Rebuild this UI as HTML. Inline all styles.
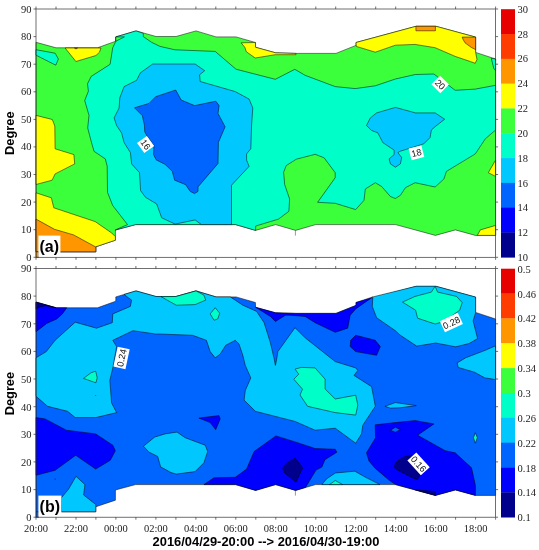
<!DOCTYPE html>
<html><head><meta charset="utf-8"><title>Contour</title>
<style>
html,body{margin:0;padding:0;background:#fff;}
svg{display:block;}
.ser{font-family:"Liberation Serif","DejaVu Serif",serif;font-size:10.5px;fill:#222;}
.sb{font-family:"Liberation Sans","DejaVu Sans",sans-serif;font-weight:bold;fill:#000;}
.lab{font-family:"Liberation Sans","DejaVu Sans",sans-serif;font-size:9.2px;fill:#111;}
</style></head>
<body>
<svg width="539" height="550" viewBox="0 0 539 550">
<rect x="0" y="0" width="539" height="550" fill="#fff"/>
<g id="plotA">
<polygon points="36.0,42.3 56.0,47.8 97.5,47.8 115.8,41.2 115.8,36.9 136.0,30.9 156.0,36.5 176.0,36.5 196.0,30.9 216.0,36.9 236.0,36.9 255.4,42.5 255.6,47.3 275.6,52.8 296.0,53.4 336.0,53.4 356.0,45.4 356.0,42.5 416.0,26.3 436.0,26.3 475.6,37.1 475.6,52.4 495.6,59.0 495.6,235.4 475.4,235.4 455.4,229.9 435.4,235.4 395.6,224.6 315.6,224.6 295.6,230.4 275.6,224.6 255.6,230.4 235.6,224.6 135.6,224.6 115.4,230.0 115.4,240.2 95.8,246.8 95.8,251.8 36.0,251.8" fill="#3cff3c" stroke="#000" stroke-width="0.5" stroke-linejoin="round"/>
<polygon points="36.0,49.7 55.1,53.2 58.4,59.0 55.8,65.2 36.0,55.2" fill="#00ffc8" stroke="#000" stroke-width="0.5" stroke-linejoin="round"/>
<polygon points="112.7,47.8 115.8,41.2 115.8,36.9 136.0,30.9 143.3,33.3 143.3,36.6 151.6,42.3 160.0,46.4 175.0,49.8 215.2,51.4 236.0,69.2 275.3,79.3 294.8,69.3 305.1,75.3 335.2,86.6 355.2,88.6 375.3,85.8 395.4,79.0 415.3,74.5 433.9,74.0 455.2,90.3 475.3,89.1 495.6,85.3 495.6,130.0 485.3,138.8 475.3,153.9 446.4,171.4 443.9,179.0 435.1,187.0 415.1,182.7 405.4,187.7 400.4,195.3 395.4,198.5 390.4,196.5 381.6,186.5 375.3,182.7 365.3,189.0 364.0,200.3 355.7,209.6 335.2,203.3 317.6,202.3 335.2,177.7 335.2,172.7 324.1,157.8 315.2,154.3 296.3,159.2 286.2,165.6 283.6,172.3 284.7,184.6 289.6,199.0 288.9,211.3 278.5,219.1 255.7,226.0 255.6,230.4 235.6,224.6 135.6,224.6 115.4,230.0 117.0,229.2 127.5,224.6 112.7,205.5 107.5,192.4 107.2,166.4 105.3,158.9 94.0,151.3 91.5,142.6 87.7,128.0 89.0,115.4 84.7,100.5 88.4,91.2 87.5,83.8 91.2,76.4 110.1,64.3" fill="#00ffc8" stroke="#000" stroke-width="0.5" stroke-linejoin="round"/>
<polygon points="491.3,58.4 495.6,59.0 495.6,70.8 493.7,68.2" fill="#00ffc8" stroke="#000" stroke-width="0.5" stroke-linejoin="round"/>
<polygon points="115.8,36.9 124.4,36.9 115.8,41.2" fill="#3cff3c" stroke="#000" stroke-width="0.5" stroke-linejoin="round"/>
<polygon points="152.7,64.0 195.1,64.0 204.7,70.7 199.6,74.8 200.2,81.5 235.3,91.6 249.1,99.1 252.8,107.9 251.6,125.0 250.8,148.8 246.6,153.9 246.6,160.1 249.1,166.4 231.5,185.2 231.5,224.6 201.4,224.6 195.1,219.9 175.1,224.1 161.7,217.8 156.7,204.0 145.5,197.3 140.6,190.7 139.5,172.7 131.6,163.9 130.4,152.6 124.1,142.6 121.6,133.0 116.6,125.5 114.1,117.9 119.1,107.9 119.8,97.8 124.1,86.6 136.6,80.3 140.4,72.8" fill="#00c8ff" stroke="#000" stroke-width="0.5" stroke-linejoin="round"/>
<polygon points="366.5,125.5 370.3,117.9 376.6,112.9 395.4,107.4 415.5,112.9 435.1,112.9 444.7,119.2 435.1,126.7 431.4,130.0 430.1,137.5 423.8,143.8 400.0,151.3 397.9,152.6 401.7,157.6 400.4,163.9 395.4,167.2 390.4,163.9 389.1,158.9 394.1,154.6 394.1,150.1 382.8,142.6 377.8,132.8 371.6,130.5" fill="#00c8ff" stroke="#000" stroke-width="0.5" stroke-linejoin="round"/>
<polygon points="134.5,107.8 149.0,103.4 155.6,96.7 175.7,90.0 181.2,100.0 194.6,105.6 215.8,101.2 219.1,105.6 218.0,113.4 225.1,126.8 218.4,142.4 218.0,163.5 198.0,186.9 198.0,191.4 194.6,193.6 190.2,191.4 185.7,184.7 174.6,180.2 172.3,171.3 165.0,164.3 156.2,159.9 153.6,154.7 153.9,145.4 146.9,135.8 144.7,131.7 144.4,125.0 142.3,115.6" fill="#0064ff" stroke="#000" stroke-width="0.5" stroke-linejoin="round"/>
<polygon points="65.1,48.0 101.0,48.0 99.4,52.3 96.0,55.5 75.9,61.5" fill="#ffff00" stroke="#000" stroke-width="0.5" stroke-linejoin="round"/>
<polygon points="36.0,115.4 52.3,119.5 54.8,126.0 55.1,148.8 73.9,154.6 74.7,163.9 55.1,173.9 52.1,180.2 36.0,184.5" fill="#ffff00" stroke="#000" stroke-width="0.5" stroke-linejoin="round"/>
<polygon points="36.0,192.8 51.3,197.8 53.8,207.8 95.2,221.6 111.6,232.9 115.4,236.7 115.4,240.2 95.8,246.8 95.8,251.8 36.0,251.8" fill="#ffff00" stroke="#000" stroke-width="0.5" stroke-linejoin="round"/>
<polygon points="241.1,42.8 255.4,42.5 255.6,47.3 275.6,52.8 296.0,53.4 296.0,54.7 275.3,54.7 255.2,58.0 246.3,51.7 244.8,47.3" fill="#ffff00" stroke="#000" stroke-width="0.5" stroke-linejoin="round"/>
<polygon points="356.0,42.5 416.0,26.3 436.0,26.3 475.6,37.1 475.6,52.4 477.0,59.5 475.2,63.3 470.5,61.6 455.2,56.4 435.1,47.7 415.0,44.4 395.4,45.2 375.3,52.2 356.3,46.4" fill="#ffff00" stroke="#000" stroke-width="0.5" stroke-linejoin="round"/>
<polygon points="495.6,160.1 488.3,172.7 495.6,176.4" fill="#ffff00" stroke="#000" stroke-width="0.5" stroke-linejoin="round"/>
<polygon points="495.6,225.4 480.3,229.9 477.3,235.4 495.6,235.4" fill="#ffff00" stroke="#000" stroke-width="0.5" stroke-linejoin="round"/>
<polygon points="36.0,219.1 54.5,229.3 73.6,234.9 95.8,247.0 95.8,251.8 36.0,251.8" fill="#ff9600" stroke="#000" stroke-width="0.5" stroke-linejoin="round"/>
<polygon points="36.0,251.8 38.6,251.8 38.6,257.3 36.0,257.3" fill="#ff9600" stroke="#000" stroke-width="0.5" stroke-linejoin="round"/>
<polygon points="415.9,26.3 435.4,26.3 435.4,30.8 415.9,30.8" fill="#ff9600" stroke="#000" stroke-width="0.5" stroke-linejoin="round"/>
<polygon points="462.2,37.1 475.6,37.1 475.6,49.6 471.4,47.5 465.0,42.8 463.0,39.3" fill="#ff9600" stroke="#000" stroke-width="0.5" stroke-linejoin="round"/>
<polygon points="74.5,48.0 77.5,48.0 76.0,49.0" fill="#ff9600" stroke="#000" stroke-width="0.5" stroke-linejoin="round"/>
<path d="M295.4 230.4v5.2" stroke="#333" stroke-width="0.5"/>
<g transform="translate(145.6 144.5) rotate(54)"><rect x="-6.2" y="-6.1" width="12.4" height="12.2" fill="#fff"/><text class="lab" x="0" y="3.3" text-anchor="middle">16</text></g>
<g transform="translate(416.4 152.8) rotate(-14)"><rect x="-6.5" y="-6.0" width="13.1" height="12.0" fill="#fff"/><text class="lab" x="0" y="3.3" text-anchor="middle">18</text></g>
<g transform="translate(440.2 84.4) rotate(45)"><rect x="-6.3" y="-6.1" width="12.6" height="12.2" fill="#fff"/><text class="lab" x="0" y="3.3" text-anchor="middle">20</text></g>
<rect x="38.4" y="235.6" width="22" height="21.2" fill="#fff"/>
<text class="sb" x="49.2" y="251.6" font-size="16" text-anchor="middle">(a)</text>
<g stroke="#333" stroke-width="0.7" fill="none">
<rect x="36.0" y="9.0" width="459.6" height="248.3"/>
<path d="M36.0 9.0v-2.5M36.0 257.3v2.5M56.0 9.0v-2.5M56.0 257.3v2.5M76.0 9.0v-2.5M76.0 257.3v2.5M95.9 9.0v-2.5M95.9 257.3v2.5M115.9 9.0v-2.5M115.9 257.3v2.5M135.9 9.0v-2.5M135.9 257.3v2.5M155.9 9.0v-2.5M155.9 257.3v2.5M175.9 9.0v-2.5M175.9 257.3v2.5M195.9 9.0v-2.5M195.9 257.3v2.5M215.8 9.0v-2.5M215.8 257.3v2.5M235.8 9.0v-2.5M235.8 257.3v2.5M255.8 9.0v-2.5M255.8 257.3v2.5M275.8 9.0v-2.5M275.8 257.3v2.5M295.8 9.0v-2.5M295.8 257.3v2.5M315.8 9.0v-2.5M315.8 257.3v2.5M335.7 9.0v-2.5M335.7 257.3v2.5M355.7 9.0v-2.5M355.7 257.3v2.5M375.7 9.0v-2.5M375.7 257.3v2.5M395.7 9.0v-2.5M395.7 257.3v2.5M415.7 9.0v-2.5M415.7 257.3v2.5M435.7 9.0v-2.5M435.7 257.3v2.5M455.6 9.0v-2.5M455.6 257.3v2.5M475.6 9.0v-2.5M475.6 257.3v2.5M495.6 9.0v-2.5M495.6 257.3v2.5M36.0 9.0h-2.5M495.6 9.0h2.5M36.0 36.6h-2.5M495.6 36.6h2.5M36.0 64.2h-2.5M495.6 64.2h2.5M36.0 91.8h-2.5M495.6 91.8h2.5M36.0 119.4h-2.5M495.6 119.4h2.5M36.0 146.9h-2.5M495.6 146.9h2.5M36.0 174.5h-2.5M495.6 174.5h2.5M36.0 202.1h-2.5M495.6 202.1h2.5M36.0 229.7h-2.5M495.6 229.7h2.5M36.0 257.3h-2.5M495.6 257.3h2.5"/>
</g>
<text class="ser" x="31.5" y="12.5" text-anchor="end">90</text>
<text class="ser" x="31.5" y="40.1" text-anchor="end">80</text>
<text class="ser" x="31.5" y="67.7" text-anchor="end">70</text>
<text class="ser" x="31.5" y="95.3" text-anchor="end">60</text>
<text class="ser" x="31.5" y="122.9" text-anchor="end">50</text>
<text class="ser" x="31.5" y="150.4" text-anchor="end">40</text>
<text class="ser" x="31.5" y="178.0" text-anchor="end">30</text>
<text class="ser" x="31.5" y="205.6" text-anchor="end">20</text>
<text class="ser" x="31.5" y="233.2" text-anchor="end">10</text>
<text class="ser" x="31.5" y="260.8" text-anchor="end">0</text>
<rect x="501" y="9.20" width="14" height="25.11" fill="#e60000"/>
<rect x="501" y="34.01" width="14" height="25.11" fill="#ff3c00"/>
<rect x="501" y="58.82" width="14" height="25.11" fill="#ff9600"/>
<rect x="501" y="83.63" width="14" height="25.11" fill="#ffff00"/>
<rect x="501" y="108.44" width="14" height="25.11" fill="#3cff3c"/>
<rect x="501" y="133.25" width="14" height="25.11" fill="#00ffc8"/>
<rect x="501" y="158.06" width="14" height="25.11" fill="#00c8ff"/>
<rect x="501" y="182.87" width="14" height="25.11" fill="#0064ff"/>
<rect x="501" y="207.68" width="14" height="25.11" fill="#0000ff"/>
<rect x="501" y="232.49" width="14" height="25.11" fill="#00008c"/>
<text class="ser" x="517.5" y="12.8">30</text>
<text class="ser" x="517.5" y="37.6">28</text>
<text class="ser" x="517.5" y="62.4">26</text>
<text class="ser" x="517.5" y="87.2">24</text>
<text class="ser" x="517.5" y="112.0">22</text>
<text class="ser" x="517.5" y="136.8">20</text>
<text class="ser" x="517.5" y="161.7">18</text>
<text class="ser" x="517.5" y="186.5">16</text>
<text class="ser" x="517.5" y="211.3">14</text>
<text class="ser" x="517.5" y="236.1">12</text>
<text class="ser" x="517.5" y="260.9">10</text>
<text class="sb" font-size="12.8" text-anchor="middle" transform="translate(14.2 133.2) rotate(-90)">Degree</text>
</g>
<g id="plotB">
<polygon points="36.0,302.3 56.0,307.8 97.5,307.8 115.8,301.2 115.8,296.9 136.0,290.9 156.0,296.5 176.0,296.5 196.0,290.9 216.0,296.9 236.0,296.9 255.4,302.5 255.6,307.3 275.6,312.8 296.0,313.4 336.0,313.4 356.0,305.4 356.0,302.5 416.0,286.3 436.0,286.3 475.6,297.1 475.6,312.4 495.6,319.0 495.6,495.4 475.4,495.4 455.4,489.9 435.4,495.4 395.6,484.6 315.6,484.6 295.6,490.4 275.6,484.6 255.6,490.4 235.6,484.6 135.6,484.6 115.4,490.0 115.4,500.2 95.8,506.8 95.8,511.8 36.0,511.8" fill="#0064ff" stroke="#000" stroke-width="0.5" stroke-linejoin="round"/>
<polygon points="36.0,511.8 38.6,511.8 38.6,517.3 36.0,517.3" fill="#0064ff" stroke="#000" stroke-width="0.5" stroke-linejoin="round"/>
<polygon points="36.0,357.8 46.3,351.6 55.1,340.3 75.2,322.2 96.5,328.2 112.3,322.7 112.8,313.9 130.4,306.4 131.6,300.1 126.6,296.4 124.0,294.5 136.0,290.9 156.0,296.5 176.0,296.5 196.0,290.9 216.0,296.9 230.3,296.9 242.8,305.2 256.6,311.4 264.1,322.7 270.4,342.8 274.2,359.1 275.4,365.4 276.7,359.1 277.9,351.6 295.0,327.7 305.1,337.8 335.2,361.6 355.7,367.9 357.8,370.4 354.0,375.4 371.6,386.7 375.3,406.3 362.8,425.2 361.5,433.9 355.7,443.2 335.2,428.2 315.1,430.2 295.0,421.4 275.4,416.4 255.4,411.3 244.1,400.1 245.3,390.5 250.8,377.9 245.3,365.4 242.8,355.3 239.0,344.0 235.3,340.3 225.7,345.3 220.2,354.1 215.2,357.8 210.2,351.6 206.4,340.3 192.6,335.3 160.0,334.0 155.5,334.0 132.9,330.7 112.8,340.3 116.6,346.6 112.8,367.9 109.8,380.4 111.6,403.0 116.6,412.6 95.7,417.6 75.2,417.6 67.6,411.3 47.6,406.3 36.0,396.3" fill="#00c8ff" stroke="#000" stroke-width="0.5" stroke-linejoin="round"/>
<polygon points="372.8,296.9 416.0,286.3 436.0,286.3 475.6,297.1 475.6,312.6 473.1,321.0 477.6,338.6 469.1,343.5 455.7,346.8 435.7,343.0 416.7,346.1 400.0,335.0 395.4,330.7 376.6,317.7 372.3,306.4" fill="#00c8ff" stroke="#000" stroke-width="0.5" stroke-linejoin="round"/>
<polygon points="495.6,345.8 485.3,350.3 465.7,357.8 457.2,362.9 458.2,367.4 474.5,372.2 484.7,377.8 495.6,379.6" fill="#00c8ff" stroke="#000" stroke-width="0.5" stroke-linejoin="round"/>
<polygon points="143.5,446.2 154.7,437.1 165.0,433.9 177.0,432.1 185.1,437.7 205.2,445.2 207.7,451.5 203.9,462.8 195.1,471.6 176.3,474.1 171.0,472.6 160.6,466.8 157.7,456.4 148.8,452.0" fill="#00c8ff" stroke="#000" stroke-width="0.5" stroke-linejoin="round"/>
<polygon points="76.0,476.3 84.9,484.6 83.6,495.0 95.8,504.5 95.8,511.8 61.4,511.8 61.2,498.0 68.6,489.1" fill="#00c8ff" stroke="#000" stroke-width="0.5" stroke-linejoin="round"/>
<polygon points="321.9,484.6 326.4,479.0 335.3,473.0 354.8,471.2 365.2,477.1 380.0,484.6" fill="#00c8ff" stroke="#000" stroke-width="0.5" stroke-linejoin="round"/>
<polygon points="384.9,406.3 395.4,402.6 416.3,405.6 400.0,407.8 390.4,408.1" fill="#00c8ff" stroke="#000" stroke-width="0.5" stroke-linejoin="round"/>
<polygon points="83.5,378.4 91.2,372.7 95.7,371.2 97.2,377.8 95.9,382.8" fill="#00ffc8" stroke="#000" stroke-width="0.5" stroke-linejoin="round"/>
<polygon points="161.0,296.6 176.0,296.5 196.0,290.9 203.9,295.1 205.7,300.1 195.1,304.6 176.3,305.2 165.0,298.9" fill="#00ffc8" stroke="#000" stroke-width="0.5" stroke-linejoin="round"/>
<polygon points="215.2,307.7 219.7,313.2 217.7,319.0 214.0,320.2 210.2,313.9" fill="#00ffc8" stroke="#000" stroke-width="0.5" stroke-linejoin="round"/>
<polygon points="402.5,302.1 415.1,296.4 431.4,292.1 435.1,286.3 437.6,292.1 456.5,296.4 462.2,302.6 459.7,310.2 443.9,321.5 435.1,324.0 417.6,318.2 415.6,310.2" fill="#00ffc8" stroke="#000" stroke-width="0.5" stroke-linejoin="round"/>
<polygon points="295.0,369.1 301.3,367.4 315.1,367.9 325.1,379.2 325.1,389.0 335.2,399.0 355.7,395.2 357.8,405.1 355.7,415.1 335.2,412.6 307.6,406.3 300.0,395.0 302.5,389.2 293.8,379.2 298.8,374.2" fill="#00ffc8" stroke="#000" stroke-width="0.5" stroke-linejoin="round"/>
<polygon points="329.4,484.6 335.3,480.5 342.7,484.6" fill="#00ffc8" stroke="#000" stroke-width="0.5" stroke-linejoin="round"/>
<polygon points="475.3,432.7 477.3,437.7 475.3,443.2 473.5,437.7" fill="#00ffc8" stroke="#000" stroke-width="0.5" stroke-linejoin="round"/>
<polygon points="36.0,302.0 56.2,307.8 66.7,307.8 62.3,313.9 56.7,319.0 46.7,323.4 36.0,331.8" fill="#0000ff" stroke="#000" stroke-width="0.5" stroke-linejoin="round"/>
<polygon points="255.6,307.3 275.6,312.8 296.0,313.4 336.0,313.4 356.0,305.4 356.0,302.5 372.8,296.9 355.7,308.9 350.2,315.2 347.7,328.2 335.2,332.3 315.1,322.7 305.1,316.4 290.0,315.2 285.5,315.2 275.4,321.5 270.4,316.4" fill="#0000ff" stroke="#000" stroke-width="0.5" stroke-linejoin="round"/>
<polygon points="355.7,335.3 375.3,340.3 380.3,346.6 376.6,355.3 355.7,351.6 350.2,346.6 350.7,340.3" fill="#0000ff" stroke="#000" stroke-width="0.5" stroke-linejoin="round"/>
<polygon points="36.0,417.6 45.1,418.9 66.4,430.2 95.7,433.9 112.8,445.2 115.3,450.7 110.3,460.3 95.7,469.1 75.7,455.3 55.1,470.3 36.0,475.3" fill="#0000ff" stroke="#000" stroke-width="0.5" stroke-linejoin="round"/>
<polygon points="198.9,418.1 219.0,415.6 220.2,418.9 215.7,429.7 210.2,422.6" fill="#0000ff" stroke="#000" stroke-width="0.5" stroke-linejoin="round"/>
<polygon points="203.9,484.6 214.0,477.8 235.3,477.3 246.6,469.1 254.1,451.5 275.9,435.9 295.2,441.9 315.3,448.6 335.3,449.3 336.8,452.3 324.9,459.7 321.9,467.1 316.0,470.1 305.5,487.4 295.6,490.4 275.6,484.6 255.6,490.4 235.6,484.6" fill="#0000ff" stroke="#000" stroke-width="0.5" stroke-linejoin="round"/>
<polygon points="366.5,452.8 375.6,437.7 375.2,424.8 395.4,422.6 415.1,420.6 433.9,423.9 417.6,435.2 445.2,450.7 455.2,452.8 471.5,467.8 475.4,485.4 475.4,495.4 455.4,489.9 435.4,495.4 395.6,484.6 389.0,480.1 375.0,468.2 369.0,461.0" fill="#0000ff" stroke="#000" stroke-width="0.5" stroke-linejoin="round"/>
<polygon points="390.4,430.2 395.4,427.2 400.4,429.7 395.4,432.2" fill="#0064ff" stroke="#000" stroke-width="0.5" stroke-linejoin="round"/>
<polygon points="36.0,302.0 56.2,307.8 46.0,305.7 40.0,306.8 36.0,308.9" fill="#00008c" stroke="#000" stroke-width="0.5" stroke-linejoin="round"/>
<polygon points="282.6,467.8 286.3,463.4 295.2,458.2 302.7,467.8 296.0,482.2 284.8,473.0" fill="#00008c" stroke="#000" stroke-width="0.5" stroke-linejoin="round"/>
<polygon points="394.5,465.6 396.1,462.3 402.8,457.3 411.7,455.0 421.0,474.0 417.3,479.5 412.8,477.9 400.6,471.7 395.0,468.4" fill="#00008c" stroke="#000" stroke-width="0.5" stroke-linejoin="round"/>
<polygon points="415.0,489.8 435.4,491.6 435.4,495.4" fill="#00008c" stroke="#000" stroke-width="0.5" stroke-linejoin="round"/>
<path d="M295.4 490.4v5.2" stroke="#333" stroke-width="0.5"/>
<circle cx="95.7" cy="395.5" r="0.6" fill="#084"/><circle cx="55.1" cy="479.1" r="0.5" fill="#008"/>
<g transform="translate(121.6 357.9) rotate(-78)"><rect x="-10.2" y="-6.2" width="20.4" height="12.3" fill="#fff"/><text class="lab" x="0" y="3.3" text-anchor="middle">0.24</text></g>
<g transform="translate(451.4 322.6) rotate(-25)"><rect x="-9.9" y="-6.2" width="19.8" height="12.3" fill="#fff"/><text class="lab" x="0" y="3.3" text-anchor="middle">0.28</text></g>
<g transform="translate(418.6 463.9) rotate(48)"><rect x="-10.1" y="-6.0" width="20.1" height="12.0" fill="#fff"/><text class="lab" x="0" y="3.3" text-anchor="middle">0.16</text></g>
<rect x="38.4" y="495.6" width="23" height="21.2" fill="#fff"/>
<text class="sb" x="49.8" y="511.6" font-size="16" text-anchor="middle">(b)</text>
<g stroke="#333" stroke-width="0.7" fill="none">
<rect x="36.0" y="268.5" width="459.6" height="248.7"/>
<path d="M36.0 268.5v-2.5M36.0 517.2v2.5M56.0 268.5v-2.5M56.0 517.2v2.5M76.0 268.5v-2.5M76.0 517.2v2.5M95.9 268.5v-2.5M95.9 517.2v2.5M115.9 268.5v-2.5M115.9 517.2v2.5M135.9 268.5v-2.5M135.9 517.2v2.5M155.9 268.5v-2.5M155.9 517.2v2.5M175.9 268.5v-2.5M175.9 517.2v2.5M195.9 268.5v-2.5M195.9 517.2v2.5M215.8 268.5v-2.5M215.8 517.2v2.5M235.8 268.5v-2.5M235.8 517.2v2.5M255.8 268.5v-2.5M255.8 517.2v2.5M275.8 268.5v-2.5M275.8 517.2v2.5M295.8 268.5v-2.5M295.8 517.2v2.5M315.8 268.5v-2.5M315.8 517.2v2.5M335.7 268.5v-2.5M335.7 517.2v2.5M355.7 268.5v-2.5M355.7 517.2v2.5M375.7 268.5v-2.5M375.7 517.2v2.5M395.7 268.5v-2.5M395.7 517.2v2.5M415.7 268.5v-2.5M415.7 517.2v2.5M435.7 268.5v-2.5M435.7 517.2v2.5M455.6 268.5v-2.5M455.6 517.2v2.5M475.6 268.5v-2.5M475.6 517.2v2.5M495.6 268.5v-2.5M495.6 517.2v2.5M36.0 268.5h-2.5M495.6 268.5h2.5M36.0 296.1h-2.5M495.6 296.1h2.5M36.0 323.8h-2.5M495.6 323.8h2.5M36.0 351.4h-2.5M495.6 351.4h2.5M36.0 379.0h-2.5M495.6 379.0h2.5M36.0 406.7h-2.5M495.6 406.7h2.5M36.0 434.3h-2.5M495.6 434.3h2.5M36.0 461.9h-2.5M495.6 461.9h2.5M36.0 489.6h-2.5M495.6 489.6h2.5M36.0 517.2h-2.5M495.6 517.2h2.5"/>
</g>
<text class="ser" x="31.5" y="272.3" text-anchor="end">90</text>
<text class="ser" x="31.5" y="299.9" text-anchor="end">80</text>
<text class="ser" x="31.5" y="327.6" text-anchor="end">70</text>
<text class="ser" x="31.5" y="355.2" text-anchor="end">60</text>
<text class="ser" x="31.5" y="382.8" text-anchor="end">50</text>
<text class="ser" x="31.5" y="410.5" text-anchor="end">40</text>
<text class="ser" x="31.5" y="438.1" text-anchor="end">30</text>
<text class="ser" x="31.5" y="465.7" text-anchor="end">20</text>
<text class="ser" x="31.5" y="493.4" text-anchor="end">10</text>
<text class="ser" x="31.5" y="521.0" text-anchor="end">0</text>
<rect x="501" y="268.70" width="14" height="25.15" fill="#e60000"/>
<rect x="501" y="293.55" width="14" height="25.15" fill="#ff3c00"/>
<rect x="501" y="318.40" width="14" height="25.15" fill="#ff9600"/>
<rect x="501" y="343.25" width="14" height="25.15" fill="#ffff00"/>
<rect x="501" y="368.10" width="14" height="25.15" fill="#3cff3c"/>
<rect x="501" y="392.95" width="14" height="25.15" fill="#00ffc8"/>
<rect x="501" y="417.80" width="14" height="25.15" fill="#00c8ff"/>
<rect x="501" y="442.65" width="14" height="25.15" fill="#0064ff"/>
<rect x="501" y="467.50" width="14" height="25.15" fill="#0000ff"/>
<rect x="501" y="492.35" width="14" height="25.15" fill="#00008c"/>
<text class="ser" x="517.5" y="272.7">0.5</text>
<text class="ser" x="517.5" y="297.6">0.46</text>
<text class="ser" x="517.5" y="322.4">0.42</text>
<text class="ser" x="517.5" y="347.2">0.38</text>
<text class="ser" x="517.5" y="372.1">0.34</text>
<text class="ser" x="517.5" y="397.0">0.3</text>
<text class="ser" x="517.5" y="421.8">0.26</text>
<text class="ser" x="517.5" y="446.7">0.22</text>
<text class="ser" x="517.5" y="471.5">0.18</text>
<text class="ser" x="517.5" y="496.4">0.14</text>
<text class="ser" x="517.5" y="521.2">0.1</text>
<text class="sb" font-size="12.8" text-anchor="middle" transform="translate(14.2 393.6) rotate(-90)">Degree</text>
<text class="ser" x="36.0" y="532.1" text-anchor="middle">20:00</text>
<text class="ser" x="76.0" y="532.1" text-anchor="middle">22:00</text>
<text class="ser" x="115.9" y="532.1" text-anchor="middle">00:00</text>
<text class="ser" x="155.9" y="532.1" text-anchor="middle">02:00</text>
<text class="ser" x="195.9" y="532.1" text-anchor="middle">04:00</text>
<text class="ser" x="235.8" y="532.1" text-anchor="middle">06:00</text>
<text class="ser" x="275.8" y="532.1" text-anchor="middle">08:00</text>
<text class="ser" x="315.8" y="532.1" text-anchor="middle">10:00</text>
<text class="ser" x="355.7" y="532.1" text-anchor="middle">12:00</text>
<text class="ser" x="395.7" y="532.1" text-anchor="middle">14:00</text>
<text class="ser" x="435.7" y="532.1" text-anchor="middle">16:00</text>
<text class="ser" x="475.6" y="532.1" text-anchor="middle">18:00</text>
<text class="sb" font-size="12.9" x="266" y="545.6" text-anchor="middle">2016/04/29-20:00 --&gt; 2016/04/30-19:00</text>
</g>
</svg>
</body></html>
